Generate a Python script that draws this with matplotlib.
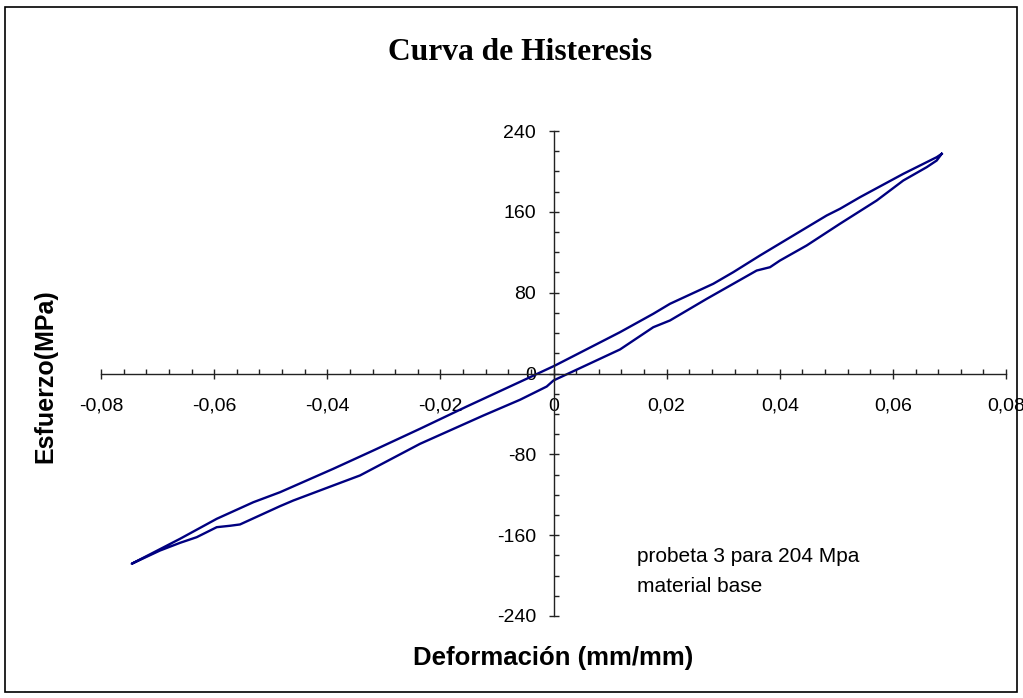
import matplotlib
matplotlib.use("Agg")
import matplotlib.pyplot as plt
import numpy as np
from matplotlib.patches import Rectangle
from matplotlib.ticker import FuncFormatter, MultipleLocator

plt.rcParams["font.family"] = ["Liberation Sans", "DejaVu Sans"]

# unloading branch, from the top tip down to the bottom tip
strain_down = [0.06863, 0.06775, 0.06184, 0.05419, 0.05065, 0.04830, 0.04240,
               0.03651, 0.03179, 0.02825, 0.02060, 0.01764, 0.01176, 0.00027,
               -0.00474, -0.01535, -0.02360, -0.03186, -0.03893, -0.04835,
               -0.05307, -0.05954, -0.06603, -0.07457]
stress_down = [217.4, 214.1, 197.6, 174.5, 163.0, 156.4, 136.6,
               116.8, 100.3, 88.8, 69.0, 59.1, 40.9, 7.9,
               -5.2, -32.7, -54.7, -76.2, -94.3, -117.5,
               -127.4, -143.8, -163.6, -188.3]

# loading branch, from the bottom tip back up to the top tip
strain_up = [-0.07457, -0.06957, -0.06603, -0.06308, -0.05954, -0.05719,
             -0.05543, -0.04835, -0.04600, -0.03893, -0.03421, -0.02360,
             -0.01241, -0.00592, -0.00120, 0.00000, 0.01176, 0.01764,
             0.02060, 0.02709, 0.03179, 0.03592, 0.03828, 0.04004,
             0.04476, 0.05065, 0.05714, 0.06184, 0.06598, 0.06775, 0.06863]
stress_up = [-188.3, -175.2, -167.6, -162.0, -152.1, -150.7,
             -149.4, -131.3, -125.7, -110.8, -100.9, -69.6,
             -41.6, -26.0, -12.9, -6.9, 23.8, 45.8,
             52.5, 73.9, 88.8, 101.9, 105.2, 111.8,
             126.7, 148.2, 171.2, 191.0, 204.2, 210.8, 217.4]

x_ticks = [-0.08, -0.06, -0.04, -0.02, 0.0, 0.02, 0.04, 0.06, 0.08]
y_ticks = [-240, -160, -80, 0, 80, 160, 240]

LINE_COLOR = "#000080"


def comma_decimal(value, _pos):
    if abs(value) < 1e-12:
        return "0"
    return f"{value:.2f}".replace(".", ",")


fig = plt.figure(figsize=(10.23, 6.98), dpi=100)
ax = fig.add_axes([101 / 1023, 1 - 616 / 698, 905 / 1023, 485 / 698])

ax.plot(strain_down + strain_up[1:], stress_down + stress_up[1:],
        color=LINE_COLOR, linewidth=1.7, solid_joinstyle="round")

ax.set_xlim(-0.08, 0.08)
ax.set_ylim(-240, 240)
ax.set_xticks(x_ticks)
ax.set_yticks(y_ticks)
ax.xaxis.set_minor_locator(MultipleLocator(0.004))
ax.yaxis.set_minor_locator(MultipleLocator(20))
ax.xaxis.set_major_formatter(FuncFormatter(comma_decimal))
ax.yaxis.set_major_formatter(FuncFormatter(lambda v, p: f"{v:.0f}"))

for side in ("top", "right"):
    ax.spines[side].set_visible(False)
ax.spines["left"].set_position(("data", 0))
ax.spines["bottom"].set_position(("data", 0))
for side in ("left", "bottom"):
    ax.spines[side].set_color("#222222")
    ax.spines[side].set_linewidth(1.0)

ax.tick_params(axis="both", which="major", direction="inout", length=7,
               width=1.0, labelsize=14, color="#222222")
ax.tick_params(axis="both", which="minor", direction="in", length=3.5,
               width=1.0, color="#222222")
ax.tick_params(axis="x", which="major", pad=14)
ax.tick_params(axis="y", which="major", pad=9)
ax.patch.set_alpha(0)

fig.text(520 / 1023, 1 - 52 / 698, "Curva de Histeresis", ha="center",
         va="center", fontsize=22.7, fontweight="bold",
         family=["Liberation Serif", "DejaVu Serif"])
fig.text(45 / 1023, 1 - 376 / 698, "Esfuerzo(MPa)", ha="center", va="center",
         rotation=90, fontsize=18, fontweight="bold")
fig.text(553 / 1023, 1 - 658 / 698, "Deformación (mm/mm)", ha="center",
         va="center", fontsize=18.5, fontweight="bold")
fig.text(637 / 1023, 1 - 557 / 698, "probeta 3 para 204 Mpa", ha="left",
         va="center", fontsize=15)
fig.text(637 / 1023, 1 - 587 / 698, "material base", ha="left",
         va="center", fontsize=15)

fig.patches.append(Rectangle((5 / 1023, 1 - 692 / 698), 1012 / 1023, 685 / 698,
                             transform=fig.transFigure, fill=False,
                             edgecolor="black", linewidth=1.2))

fig.savefig("out.png", dpi=100)
